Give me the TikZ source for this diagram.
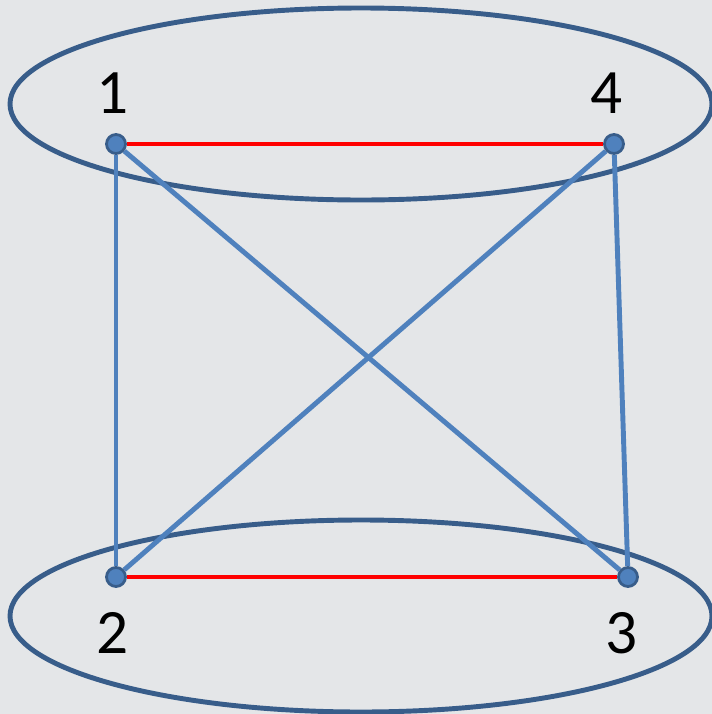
\documentclass[tikz,border=0pt]{standalone}
\usepackage{xcolor}
\usepackage{fontspec}
\setmainfont{Carlito}
\usepackage{tikz}
\usetikzlibrary{positioning}
\definecolor{edgeblue}{RGB}{79,129,189}
\definecolor{rimblue}{RGB}{56,93,138}
\definecolor{marble}{RGB}{228,230,232}
\tikzstyle{vertex} = [circle, minimum size=0.38cm, inner sep=0pt, fill=edgeblue, draw=rimblue, line width=1.6pt]
\tikzstyle{num} = [font=\fontsize{36}{36}\selectfont, inner sep=0pt]
\tikzstyle{edge} = [draw=edgeblue, line width=2.8pt]
\tikzstyle{match} = [draw=red, line width=2.8pt]
\tikzstyle{group} = [draw=rimblue, line width=2.8pt]

\begin{document}
\begin{tikzpicture}[x=0.02cm, y=-0.02cm]
    \useasboundingbox (0,0) rectangle (712,714);
    \fill [marble] (0,0) rectangle (712,714);
    % Groups
    \draw [group] (361,104) ellipse [x radius=351, y radius=96];
    \draw [group] (361,616) ellipse [x radius=351, y radius=96];
    % Nodes
    \node [vertex] (v1) at (116,144) {};
    \node [vertex] (v4) at (614,144) {};
    \node [vertex] (v2) at (116,577) {};
    \node [vertex] (v3) at (628,577) {};
    \node [num] (l1) at (113,93) {1};
    \node [num] (l4) at (607,93) {4};
    \node [num] (l2) at (113,633) {2};
    \node [num] (l3) at (622,633) {3};
    % Edges
    \path [edge] (v1) -- (v2);
    \path [edge] (v4) -- (v3);
    \path [edge] (v1) -- (v3);
    \path [edge] (v4) -- (v2);
    \path [match] (v1) -- (v4);
    \path [match] (v2) -- (v3);
\end{tikzpicture}
\end{document}
